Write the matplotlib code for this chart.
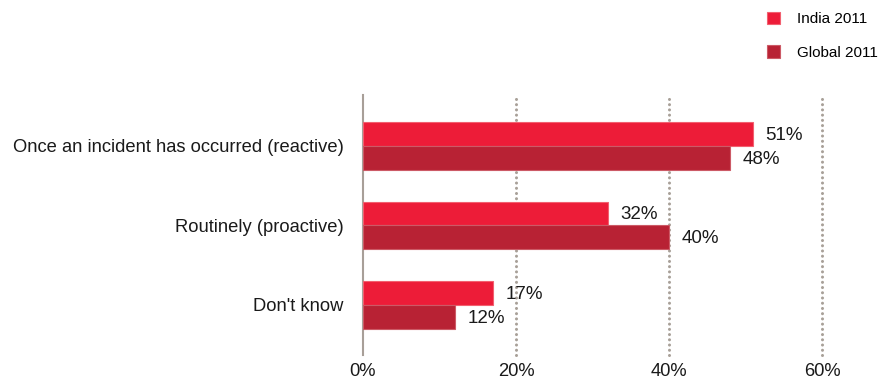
import matplotlib
matplotlib.use("Agg")
import matplotlib.pyplot as plt
import numpy as np

plt.rcParams['font.family'] = ['Liberation Sans', 'DejaVu Sans']

categories = ["Once an incident has occurred (reactive)",
              "Routinely (proactive)",
              "Don't know"]
series_names = ["India 2011", "Global 2011"]
india = [51, 32, 17]
global_ = [48, 40, 12]
xticks = [0, 20, 40, 60]
xtick_labels = ["0%", "20%", "40%", "60%"]

colors = ["#ED1C38", "#B82234"]
edges = ["#F2606F", "#CC5A66"]

fig = plt.figure(figsize=(8.95, 3.83), dpi=100)
ax = fig.add_axes([363 / 895, 1 - 355 / 383, (822 - 363) / 895, 260 / 383])

y = np.arange(len(categories))
h = 0.30
b1 = ax.barh(y - h / 2, india, height=h, color=colors[0], edgecolor=edges[0],
             linewidth=0.8, label=series_names[0], zorder=3)
b2 = ax.barh(y + h / 2, global_, height=h, color=colors[1], edgecolor=edges[1],
             linewidth=0.8, label=series_names[1], zorder=3)

for bars, vals in ((b1, india), (b2, global_)):
    for rect, v in zip(bars, vals):
        ax.annotate(f"{v}%", (v, rect.get_y() + rect.get_height() / 2),
                    xytext=(9, -1), textcoords="offset points",
                    ha="left", va="center", fontsize=13.5, color="#1a1a1a")

ax.set_xlim(0, 60)
ax.set_ylim(2.63, -0.64)
ax.set_yticks(y)
ax.set_yticklabels(categories, fontsize=13.2, color="#1a1a1a")
ax.set_xticks(xticks)
ax.set_xticklabels(xtick_labels, fontsize=13.2, color="#1a1a1a")
ax.tick_params(axis="y", length=0, pad=14)
ax.tick_params(axis="x", length=0, pad=6)

for s in ("top", "right", "bottom"):
    ax.spines[s].set_visible(False)
ax.spines["left"].set_color("#A89F98")
ax.spines["left"].set_linewidth(1.5)

for xv in xticks[1:]:
    ax.axvline(xv, color="#A8A098", linewidth=2.2, linestyle=(0, (0.01, 1.7)),
               dash_capstyle="round", zorder=1, clip_on=False)

fig.legend(handles=[b1, b2], labels=series_names,
           loc="upper left", bbox_to_anchor=(753 / 895, 1 + 2 / 383),
           frameon=False, fontsize=11, handlelength=0.9, handleheight=0.9,
           handletextpad=1.1, labelspacing=1.25)

fig.savefig("out.png", dpi=100, facecolor="white")
